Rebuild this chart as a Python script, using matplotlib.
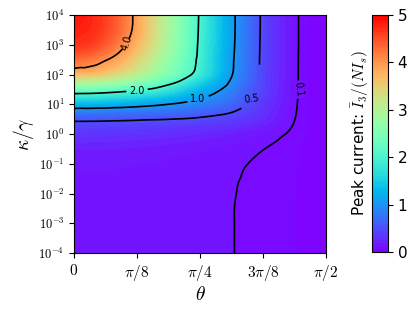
import numpy as np
import matplotlib
matplotlib.use("Agg")
import matplotlib.pyplot as plt
import matplotlib.tri as mtri
from matplotlib.ticker import NullLocator

plt.rcParams['mathtext.fontset'] = 'cm'

# grid: theta in fractions of pi/2 (k/16), log10(kappa/gamma) rows
theta_frac = [k / 16 for k in range(17)]
log_kappa = [-4.0, -3.5, -3.0, -2.5, -2.0, -1.5, -1.0, -0.5, 0.0,
             0.5, 1.0, 1.5, 2.0, 2.5, 3.0, 3.5, 4.0]

# peak current values, one row per log_kappa
row_m40 = [0.140, 0.139, 0.137, 0.134, 0.131, 0.127, 0.123, 0.118, 0.1135, 0.108, 0.1015, 0.0925, 0.081, 0.067, 0.050, 0.027, 0.0]
row_m35 = [0.140, 0.139, 0.137, 0.134, 0.131, 0.127, 0.123, 0.118, 0.1135, 0.108, 0.1015, 0.0925, 0.081, 0.067, 0.050, 0.027, 0.0]
row_m30 = [0.140, 0.139, 0.137, 0.134, 0.131, 0.127, 0.123, 0.118, 0.1135, 0.108, 0.1015, 0.0925, 0.081, 0.067, 0.050, 0.027, 0.0]
row_m25 = [0.140, 0.139, 0.137, 0.134, 0.131, 0.127, 0.123, 0.118, 0.1135, 0.108, 0.1015, 0.0925, 0.081, 0.067, 0.050, 0.027, 0.0]
row_m20 = [0.141, 0.140, 0.138, 0.135, 0.132, 0.128, 0.124, 0.119, 0.1145, 0.109, 0.1025, 0.0935, 0.082, 0.068, 0.051, 0.027, 0.0]
row_m15 = [0.146, 0.145, 0.143, 0.140, 0.137, 0.133, 0.129, 0.124, 0.119, 0.113, 0.105, 0.0955, 0.084, 0.070, 0.052, 0.028, 0.0]
row_m10 = [0.162, 0.161, 0.159, 0.156, 0.152, 0.147, 0.142, 0.136, 0.130, 0.123, 0.115, 0.1005, 0.088, 0.074, 0.055, 0.029, 0.0]
row_m05 = [0.205, 0.204, 0.201, 0.197, 0.191, 0.184, 0.176, 0.167, 0.157, 0.146, 0.134, 0.121, 0.102, 0.084, 0.062, 0.031, 0.0]
row_p00 = [0.330, 0.328, 0.322, 0.315, 0.305, 0.292, 0.278, 0.262, 0.244, 0.224, 0.200, 0.172, 0.142, 0.113, 0.082, 0.040, 0.0]
row_p05 = [0.550, 0.548, 0.543, 0.535, 0.525, 0.514, 0.504, 0.490, 0.465, 0.430, 0.390, 0.330, 0.260, 0.175, 0.102, 0.045, 0.0]
row_p10 = [1.25, 1.24, 1.22, 1.18, 1.13, 1.07, 1.00, 0.93, 0.85, 0.76, 0.65, 0.50, 0.35, 0.21, 0.115, 0.042, 0.0]
row_p15 = [2.35, 2.33, 2.27, 2.18, 2.08, 1.95, 1.76, 1.52, 1.27, 1.07, 0.86, 0.62, 0.42, 0.24, 0.12, 0.044, 0.0]
row_p20 = [3.65, 3.60, 3.47, 3.28, 3.04, 2.76, 2.46, 2.16, 1.80, 1.40, 1.02, 0.72, 0.44, 0.25, 0.122, 0.045, 0.0]
row_p25 = [4.30, 4.22, 4.03, 3.78, 3.45, 3.08, 2.68, 2.30, 1.90, 1.45, 1.05, 0.735, 0.445, 0.255, 0.123, 0.045, 0.0]
row_p30 = [4.68, 4.60, 4.40, 4.10, 3.72, 3.30, 2.84, 2.38, 1.93, 1.48, 1.07, 0.745, 0.45, 0.26, 0.125, 0.045, 0.0]
row_p35 = [4.80, 4.74, 4.56, 4.27, 3.86, 3.38, 2.89, 2.41, 1.95, 1.50, 1.08, 0.75, 0.455, 0.26, 0.125, 0.045, 0.0]
row_p40 = [4.85, 4.78, 4.60, 4.30, 3.88, 3.40, 2.90, 2.42, 1.96, 1.50, 1.08, 0.755, 0.456, 0.26, 0.125, 0.045, 0.0]

line_levels = [0.1, 0.5, 1.0, 2.0, 4.0]
x_tick_labels = [r'$0$', r'$\pi/8$', r'$\pi/4$', r'$3\pi/8$', r'$\pi/2$']
y_tick_exps = [-4, -3, -2, -1, 0, 1, 2, 3, 4]
cbar_ticks = [0, 1, 2, 3, 4, 5]

Z = np.array([row_m40, row_m35, row_m30, row_m25, row_m20, row_m15, row_m10, row_m05,
              row_p00, row_p05, row_p10, row_p15, row_p20, row_p25, row_p30, row_p35, row_p40])
theta = np.array(theta_frac) * np.pi / 2
T, L = np.meshgrid(theta, np.array(log_kappa))

# smooth rendering of the table with matplotlib's cubic triangulation interpolator
# (interpolated in log space, since the values span two orders of magnitude)
offset = 0.05
scale = np.pi / 16.0
tri = mtri.Triangulation(T.ravel(), L.ravel() * scale)
W = np.log(Z.ravel() + offset)
interp = mtri.CubicTriInterpolator(tri, W, kind='geom')
tf = np.linspace(theta[0], theta[-1], 241)
lf = np.linspace(log_kappa[0], log_kappa[-1], 241)
TF, LF = np.meshgrid(tf, lf)
ZF = np.clip(np.exp(np.asarray(interp(TF, LF * scale))) - offset, 0.0, 5.0)
KF = 10.0 ** LF

fig = plt.figure(figsize=(4.15, 3.11), dpi=100)
ax = fig.add_axes([74 / 415, 58 / 311, 252 / 415, 238 / 311])
cax = fig.add_axes([372 / 415, 59 / 311, 16 / 415, 237 / 311])

cmap = plt.get_cmap('rainbow')
norm = plt.Normalize(0, 5)
cf = ax.contourf(TF, KF, ZF, levels=np.linspace(0, 5, 101), cmap=cmap, norm=norm)
cs = ax.contour(TF, KF, ZF, levels=line_levels[1:], colors='black', linewidths=1.2)
cs_low = ax.contour(TF, KF, ZF, levels=line_levels[:1], colors='black', linewidths=1.2)
manual = [(18.9 * np.pi / 180, 1148), (22.5 * np.pi / 180, 29.5), (44.3 * np.pi / 180, 17.4),
          (63.6 * np.pi / 180, 15.8)]
ax.clabel(cs, fmt='%.1f', fontsize=7, inline=True, inline_spacing=3, manual=manual)
low_texts = ax.clabel(cs_low, fmt='%.1f', fontsize=7, inline=False,
                      manual=[(80.2 * np.pi / 180, 6.3)])
for t in low_texts:
    t.set_rotation(-82)
    t.set_bbox(dict(boxstyle='square,pad=0.15', fc=cmap(norm(line_levels[0])), ec='none'))

ax.set_yscale('log')
ax.set_xlim(0, np.pi / 2)
ax.set_ylim(1e-4, 1e4)
ax.set_xticks(np.arange(5) * np.pi / 8)
ax.set_xticklabels(x_tick_labels, fontsize=11)
ax.set_yticks([10.0 ** e for e in y_tick_exps])
ax.set_yticklabels([r'$10^{%d}$' % e for e in y_tick_exps], fontsize=9)
ax.yaxis.set_minor_locator(NullLocator())
ax.set_xlabel(r'$\theta$', fontsize=14, labelpad=2)
ax.set_ylabel(r'$\kappa/\gamma$', fontsize=14, labelpad=2)

cb = fig.colorbar(cf, cax=cax, ticks=cbar_ticks)
cb.ax.tick_params(labelsize=11)
cb.set_label(r'Peak current: $\bar{I}_3/(NI_s)$', fontsize=11, labelpad=1)
cb.ax.yaxis.set_label_position('left')

fig.savefig('out.png', dpi=100)
